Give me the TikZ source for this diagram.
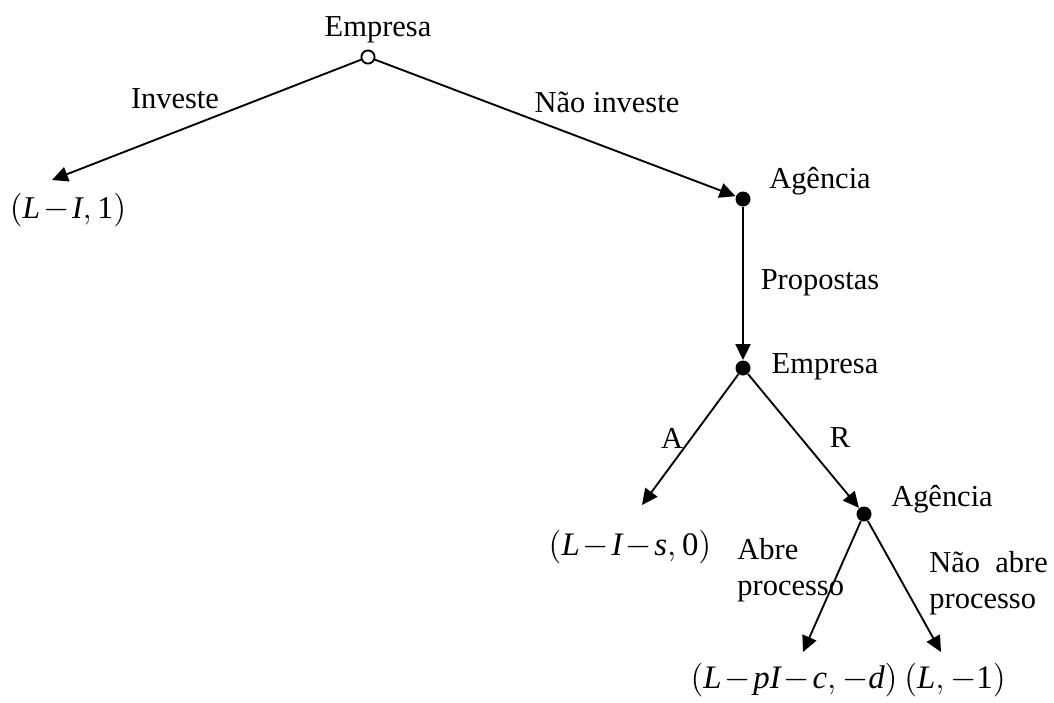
\documentclass[tikz,border=0pt]{standalone}
\usepackage{fontspec}
\setmainfont{Liberation Serif}
\usetikzlibrary{arrows.meta}
\tikzset{
    opennode/.style = {circle, draw=black, line width=0.8pt, fill=white, inner sep=0pt, minimum size=5.6pt},
    dotnode/.style = {circle, fill=black, inner sep=0pt, minimum size=6.4pt},
    lbl/.style = {inner sep=0pt, font=\fontsize{13}{15.5}\selectfont},
    lblb/.style = {inner sep=0pt, align=left, anchor=west, font=\fontsize{13}{15.5}\selectfont},
    payoff/.style = {inner sep=0pt, font=\fontsize{14}{17}\selectfont, execute at begin node={\medmuskip=1.5mu\relax}},
    edgen/.style = {-{Triangle[length=6.8pt,width=6.4pt]}, line width=0.8pt},
}

\begin{document}
\begin{tikzpicture}[x=0.015cm, y=-0.015cm]
\useasboundingbox (0,0) rectangle (1054,702);
% decision nodes
\node[opennode] at (368, 57) (e1) {};
\node[dotnode] at (743, 199) (a1) {};
\node[dotnode] at (743, 368) (e2) {};
\node[dotnode] at (864, 514) (a2) {};
% arrow ends
\coordinate (inv) at (52, 180);
\coordinate (acc) at (642, 505);
\coordinate (abre) at (803, 652);
\coordinate (nabre) at (941, 652);
%
\node[lbl] at (378, 30) (le1) {Empresa};
\node[lbl] at (820, 181) (la1) {Agência};
\node[lbl] at (825, 367) (le2) {Empresa};
\node[lbl] at (942, 499) (la2) {Agência};
%
\draw[edgen] (e1) -- (inv);
\node[lbl] at (175, 99) (linv) {Investe};
\draw[edgen] (e1) -- (a1);
\node[lbl] at (607, 102) (lni) {Não investe};
\draw[edgen] (a1) -- (e2);
\node[lbl] at (820, 283) (lprop) {Propostas};
\draw[edgen] (e2) -- (acc);
\draw[edgen] (e2) -- (a2);
\node[lbl] at (672, 438) (lA) {A};
\node[lbl] at (840, 438) (lR) {R};
\draw[edgen] (a2) -- (abre);
\draw[edgen] (a2) -- (nabre);
\node[lblb] at (737, 570) (labre) {Abre\\processo};
\node[lblb] at (929, 583) (lnabre) {Não\ \ abre\\processo};
% payoffs
\node[payoff, font=\fontsize{13.5}{16}\selectfont] at (68, 210) (p1) {$(\mathit{L}-\mathit{I},\mathrm{1})$};
\node[payoff] at (630, 547) (p2) {$\bigl(\mathit{L}-\mathit{I}-\mathit{s},\mathrm{0}\bigr)$};
\node[payoff] at (794, 680) (p3) {$\bigl(\mathit{L}-\mathit{p}\mathit{I}-\mathit{c},-\mathit{d}\bigr)$};
\node[payoff] at (955, 680) (p4) {$\bigl(\mathit{L},-\mathrm{1}\bigr)$};

\end{tikzpicture}
\end{document}
